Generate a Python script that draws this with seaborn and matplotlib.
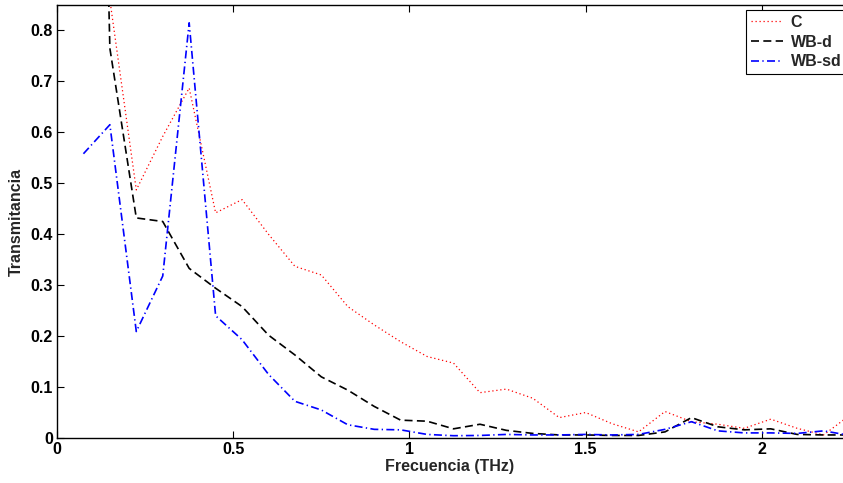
import numpy as np
import pandas as pd
import matplotlib
matplotlib.use("Agg")
import matplotlib.pyplot as plt
import seaborn as sns
from matplotlib.ticker import FormatStrFormatter

freq = [0.075, 0.15, 0.225, 0.3, 0.375, 0.45, 0.525, 0.6, 0.675, 0.75,
        0.825, 0.9, 0.975, 1.05, 1.125, 1.2, 1.275, 1.35, 1.425, 1.5,
        1.575, 1.65, 1.725, 1.8, 1.875, 1.95, 2.025, 2.1, 2.175, 2.25]

c_vals = [1.2, 0.86, 0.487, 0.592, 0.687, 0.442, 0.468, 0.40, 0.337, 0.32,
          0.258, 0.222, 0.189, 0.16, 0.147, 0.089, 0.096, 0.078, 0.040, 0.050,
          0.028, 0.012, 0.052, 0.032, 0.027, 0.019, 0.037, 0.019, 0.006, 0.045]

wbd_vals = [3.0, 0.765, 0.432, 0.425, 0.333, 0.294, 0.258, 0.202, 0.163, 0.12,
            0.094, 0.062, 0.035, 0.033, 0.018, 0.027, 0.015, 0.009, 0.006, 0.006,
            0.005, 0.005, 0.012, 0.040, 0.022, 0.016, 0.018, 0.007, 0.006, 0.006]

wbsd_vals = [0.558, 0.615, 0.209, 0.318, 0.815, 0.24, 0.193, 0.125, 0.072, 0.055,
             0.026, 0.017, 0.016, 0.007, 0.0045, 0.005, 0.007, 0.006, 0.006, 0.007,
             0.006, 0.007, 0.017, 0.032, 0.014, 0.010, 0.010, 0.009, 0.014, 0.005]

labels = ["C", "WB-d", "WB-sd"]
xticks = [0, 0.5, 1, 1.5, 2]
yticks = [0, 0.1, 0.2, 0.3, 0.4, 0.5, 0.6, 0.7, 0.8]

sns.set_style("ticks")
plt.rcParams['font.family'] = ['Liberation Sans', 'DejaVu Sans']
plt.rcParams['font.weight'] = 'bold'
plt.rcParams['axes.labelweight'] = 'bold'

fig = plt.figure(figsize=(8.43, 4.83), dpi=100)
ax = fig.add_axes([57/843, 45/483, 1 - 57/843, 433/483])

# colour, dash pattern (in linewidths), width
styles = [("red", (1.0, 2.2), 0.9),
          ("black", (4.8, 2.6), 1.2),
          ("blue", (4.8, 2.0, 0.8, 2.0), 1.2)]
for lab, vals, (col, dash, lw) in zip(labels, [c_vals, wbd_vals, wbsd_vals], styles):
    sns.lineplot(x=freq, y=vals, ax=ax, color=col, linestyle=(0, dash),
                 linewidth=lw, label=lab, estimator=None, sort=False)

ax.set_xlim(0, 2.23)
ax.set_ylim(0, 0.85)
ax.set_xticks(xticks)
ax.set_yticks(yticks)
ax.xaxis.set_major_formatter(FormatStrFormatter('%g'))
ax.yaxis.set_major_formatter(FormatStrFormatter('%g'))
ax.tick_params(direction='in', top=True, length=5, width=0.8,
               labelsize=11.5, colors='black', pad=3)
for lbl in ax.get_xticklabels() + ax.get_yticklabels():
    lbl.set_fontweight('bold')
ax.spines['right'].set_visible(False)
for s in ['left', 'top', 'bottom']:
    ax.spines[s].set_linewidth(1.0)
    ax.spines[s].set_color('black')

ax.set_xlabel("Frecuencia (THz)", fontsize=11.5, fontweight='bold', labelpad=1)
ax.set_ylabel("Transmitancia", fontsize=11.5, fontweight='bold', labelpad=5)

leg = ax.legend(loc='upper left', bbox_to_anchor=(746/843, 1 - 10/483),
                bbox_transform=fig.transFigure, frameon=True, fancybox=False,
                edgecolor='black', framealpha=1, fontsize=11.5,
                handlelength=2.0, labelspacing=0.3, borderpad=0.3,
                handletextpad=0.5, borderaxespad=0)
leg.get_frame().set_linewidth(0.8)
for t in leg.get_texts():
    t.set_fontweight('bold')

fig.savefig("out.png", dpi=100)
